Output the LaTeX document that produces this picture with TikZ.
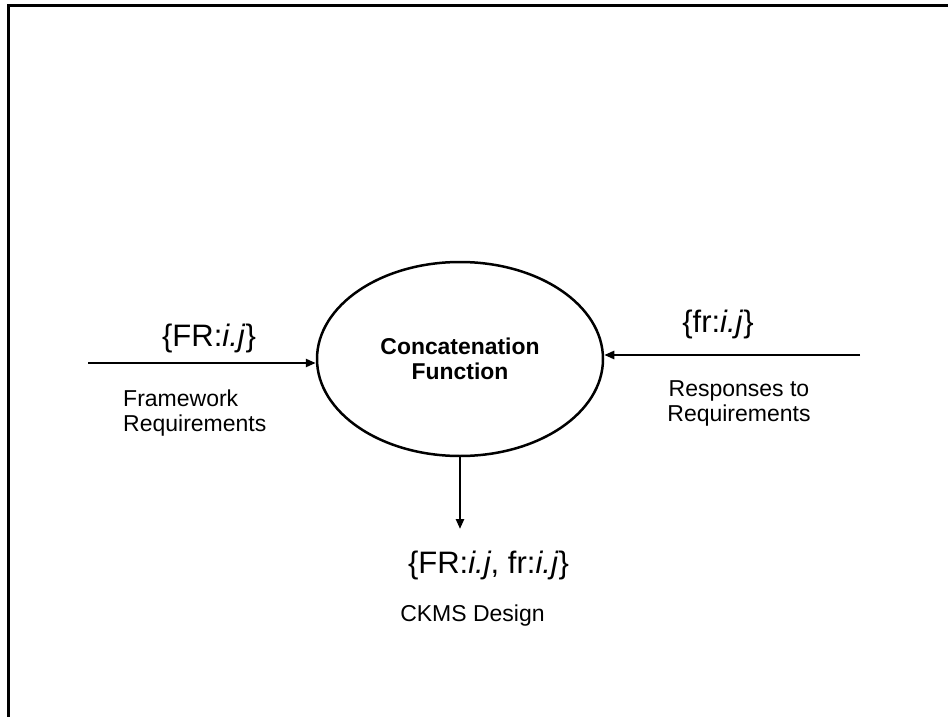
\documentclass[tikz,border=0pt]{standalone}
\usepackage{fontspec}
\setmainfont{Liberation Sans}
\usetikzlibrary{positioning}
\usetikzlibrary{arrows.meta}
\usetikzlibrary{shapes.geometric}

\begin{document}
\begin{tikzpicture}[x=1pt, y=-1pt,
    func/.style={draw, line width=2.5pt, ellipse, minimum width=286pt, minimum height=194pt, align=center, font=\fontsize{22.9}{25}\selectfont\bfseries},
    flow/.style={inner sep=0pt, anchor=base, font=\fontsize{31}{36}\selectfont},
    note/.style={inner sep=0pt, font=\fontsize{23}{25}\selectfont},
    arrow/.style={-{Triangle[length=10pt, width=8pt]}, line width=2.4pt},
]
\useasboundingbox (0,0) rectangle (948,717);
\draw[line width=2.8pt] (948,5.5) -- (8.5,5.5) -- (8.5,717);

\node[func] (concat) at (460,359) {Concatenation\\Function};

\coordinate (frstart) at (88,363);
\coordinate (rspstart) at (860,355);
\node[flow] (frlabel) at (209,346) {\{FR:\textit{i.j}\}};
\node[note, anchor=west, align=left] (frnote) at (123,413.5) {Framework\\Requirements};
\node[flow] (rsplabel) at (718,332) {\{fr:\textit{i.j}\}};
\node[note, align=center] (rspnote) at (739,403.5) {Responses to\\Requirements};

\node[flow] (design) at (488.5,573) {\{FR:\textit{i.j}, fr:\textit{i.j}\}};
\node[note, anchor=base] (designnote) at (472.5,621) {CKMS Design};
\coordinate (designtop) at (460,529);

\draw[arrow] (frstart) -- (frstart -| concat.west);
\draw[arrow] (rspstart) -- (rspstart -| concat.east);
\draw[arrow] (concat.south) -- (designtop);

\end{tikzpicture}
\end{document}
